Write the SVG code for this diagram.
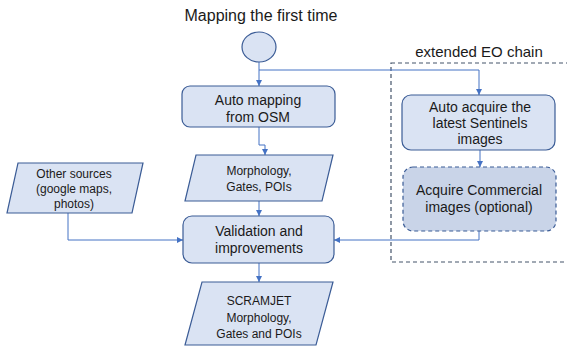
<svg xmlns="http://www.w3.org/2000/svg" width="567" height="353" viewBox="0 0 567 353">
  <style>
    .shape { fill: #dae3f3; stroke: #3b5c96; stroke-width: 1.2; }
    .opt { fill: #c9d4e8; stroke: #3b5c96; stroke-width: 1.2; stroke-dasharray: 4 3; }
    .frame { fill: none; stroke: #44546a; stroke-width: 1.2; stroke-dasharray: 4 3; }
    .wire { fill: none; stroke: #4472c4; stroke-width: 1; }
    text { font-family: "Liberation Sans", Arial, sans-serif; fill: #1a1a1a; text-anchor: middle; }
    .t16 { font-size: 16px; }
    .t15 { font-size: 15px; }
    .t14 { font-size: 14px; }
    .t12 { font-size: 12px; }
  </style>
  <defs>
    <marker id="arrow" viewBox="0 0 10 10" refX="10" refY="5" markerWidth="6" markerHeight="6" markerUnits="userSpaceOnUse" orient="auto">
      <path d="M0,0 L10,5 L0,10 z" fill="#4472c4"/>
    </marker>
  </defs>

  <rect width="567" height="353" fill="#ffffff"/>

  <text class="t16" x="261" y="21">Mapping the first time</text>

  <!-- extended EO chain frame -->
  <g id="eo-chain">
    <rect class="frame" x="391" y="63" width="190" height="199"/>
    <text class="t15" x="479" y="57">extended EO chain</text>
  </g>

  <!-- connectors -->
  <g id="connectors">
    <path class="wire" d="M259,62 V86" marker-end="url(#arrow)"/>
    <path class="wire" d="M259,70 H479 V95" marker-end="url(#arrow)"/>
    <path class="wire" d="M259,127 V145 H265 V155" marker-end="url(#arrow)"/>
    <path class="wire" d="M259,201 V216" marker-end="url(#arrow)"/>
    <path class="wire" d="M259,263 V282" marker-end="url(#arrow)"/>
    <path class="wire" d="M480,150 V167" marker-end="url(#arrow)"/>
    <path class="wire" d="M479,231 V240 H334" marker-end="url(#arrow)"/>
    <path class="wire" d="M68,213 V240 H183" marker-end="url(#arrow)"/>
  </g>

  <g id="start">
    <ellipse class="shape" cx="259" cy="47" rx="17" ry="15"/>
  </g>

  <g id="auto-mapping">
    <rect class="shape" x="182" y="86" width="153" height="41" rx="8"/>
    <text class="t14" x="258" y="105">Auto mapping</text>
    <text class="t14" x="258" y="122">from OSM</text>
  </g>

  <g id="morphology">
    <polygon class="shape" points="196,155 333,155 322,201 185,201"/>
    <text class="t12" x="259" y="175">Morphology,</text>
    <text class="t12" x="259" y="191">Gates, POIs</text>
  </g>

  <g id="other-sources">
    <polygon class="shape" points="18,163 143,163 132,213 7,213"/>
    <text class="t12" x="74" y="178">Other sources</text>
    <text class="t12" x="74" y="193">(google maps,</text>
    <text class="t12" x="74" y="208">photos)</text>
  </g>

  <g id="validation">
    <rect class="shape" x="183" y="216" width="151" height="47" rx="9"/>
    <text class="t14" x="259" y="236">Validation and</text>
    <text class="t14" x="259" y="253">improvements</text>
  </g>

  <g id="scramjet">
    <polygon class="shape" points="202,282 333,282 316,345 185,345"/>
    <text class="t12" x="259" y="305">SCRAMJET</text>
    <text class="t12" x="259" y="322">Morphology,</text>
    <text class="t12" x="259" y="338">Gates and POIs</text>
  </g>

  <g id="auto-acquire">
    <rect class="shape" x="402" y="95" width="153" height="55" rx="9"/>
    <text class="t14" x="480" y="112">Auto acquire the</text>
    <text class="t14" x="480" y="128">latest Sentinels</text>
    <text class="t14" x="480" y="144">images</text>
  </g>

  <g id="commercial">
    <rect class="opt" x="403" y="167" width="153" height="64" rx="10"/>
    <text class="t14" x="479" y="195">Acquire Commercial</text>
    <text class="t14" x="479" y="212">images (optional)</text>
  </g>
</svg>
